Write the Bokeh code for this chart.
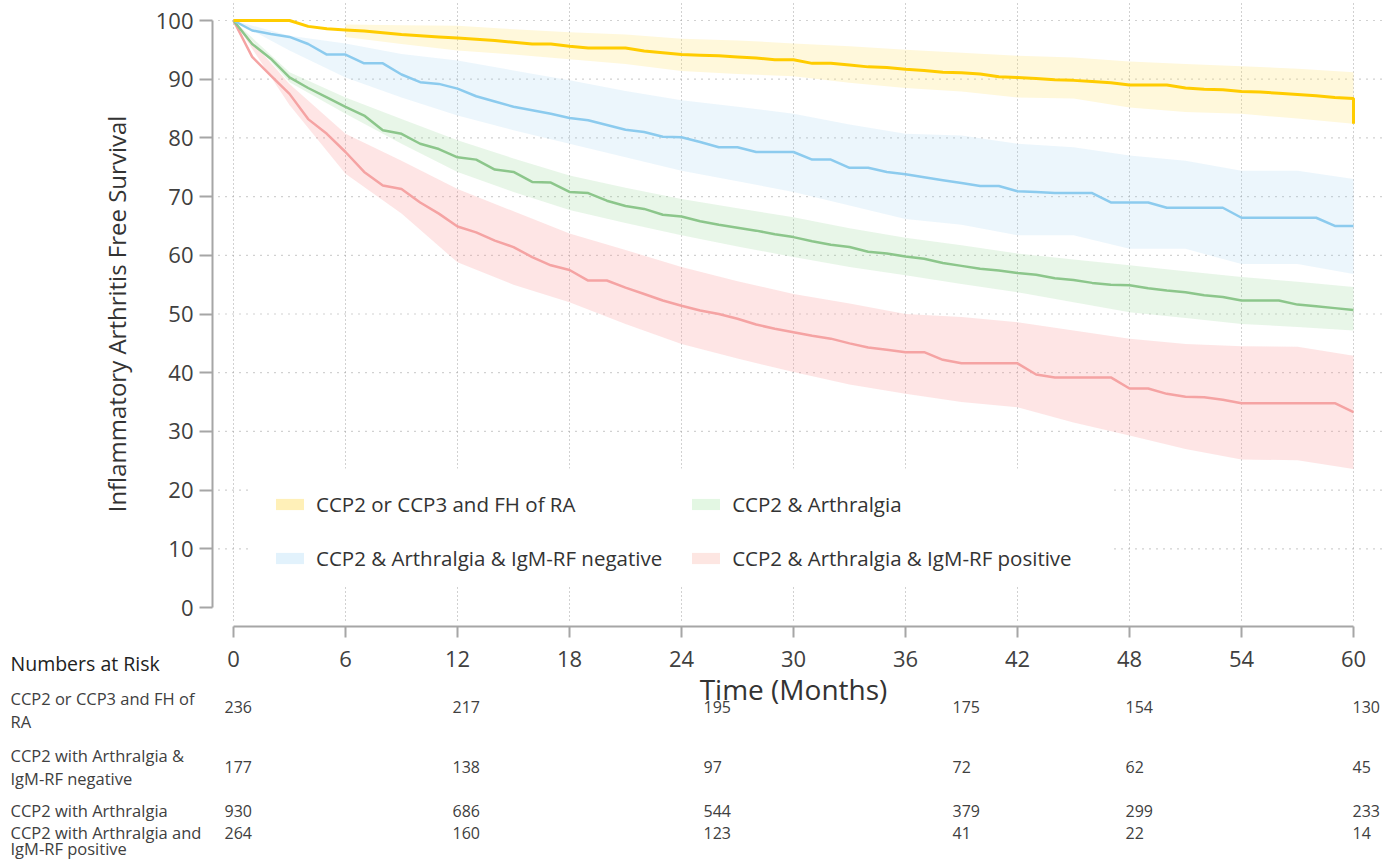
from bokeh.plotting import figure
from bokeh.models import Range1d, FixedTicker, Legend, LegendItem, Label, BoxAnnotation
from bokeh.embed import file_html
from bokeh.resources import INLINE

# ---------------- data ----------------
months = list(range(0, 61))
band_months = [0, 3, 6, 9, 12, 15, 18, 21, 24, 27, 30, 33, 36, 39, 42, 45, 48, 51, 54, 57, 60]
yellow_band_months = [6, 9, 12, 15, 18, 21, 24, 27, 30, 33, 36, 39, 42, 45, 48, 51, 54, 57, 60]

yellow_surv = [100, 100, 100, 100, 99.0, 98.6, 98.4, 98.2, 97.9, 97.6, 97.4, 97.2, 97.0, 96.8, 96.6, 96.3,
               96.0, 96.0, 95.6, 95.3, 95.3, 95.3, 94.8, 94.5, 94.2, 94.1, 94.0, 93.8, 93.6, 93.3, 93.3,
               92.7, 92.7, 92.4, 92.1, 92.0, 91.7, 91.5, 91.2, 91.1, 90.9, 90.4, 90.3, 90.1, 89.9, 89.8,
               89.6, 89.4, 89.0, 89.0, 89.0, 88.5, 88.3, 88.2, 87.9, 87.8, 87.6, 87.4, 87.2, 86.9, 86.7]
yellow_final_drop = 82.4
yellow_upper = [99.3, 99.2, 99.1, 98.5, 98.0, 97.6, 96.9, 96.6, 96.1, 95.6, 95.0, 94.5, 94.0, 93.7, 93.0,
                92.6, 92.2, 91.8, 91.2]
yellow_lower = [97.2, 96.0, 94.9, 94.2, 93.4, 92.6, 91.4, 90.9, 90.5, 89.4, 88.5, 87.9, 86.9, 86.7, 85.2,
                84.4, 84.1, 83.3, 82.4]

blue_surv = [100, 98.3, 97.7, 97.2, 96.0, 94.2, 94.2, 92.7, 92.7, 90.8, 89.5, 89.2, 88.4, 87.1, 86.2, 85.3,
             84.7, 84.1, 83.4, 83.0, 82.2, 81.4, 81.0, 80.2, 80.1, 79.3, 78.4, 78.4, 77.6, 77.6, 77.6,
             76.3, 76.3, 74.9, 74.9, 74.2, 73.8, 73.3, 72.8, 72.3, 71.8, 71.8, 70.9, 70.8, 70.6, 70.6,
             70.6, 69.0, 69.0, 69.0, 68.1, 68.1, 68.1, 68.1, 66.4, 66.4, 66.4, 66.4, 66.4, 65.0, 65.0]
blue_upper = [100, 97.4, 96.1, 94.3, 93.2, 91.5, 89.8, 88.0, 86.4, 85.3, 84.1, 82.3, 80.7, 80.4, 79.0,
              78.4, 77.0, 76.1, 74.4, 74.4, 73.0]
blue_lower = [100, 94.9, 90.3, 86.9, 83.8, 81.3, 79.0, 76.7, 74.4, 72.6, 70.8, 68.5, 66.2, 65.2, 63.4,
              63.4, 61.1, 61.1, 58.5, 58.5, 56.8]

green_surv = [100, 96.0, 93.5, 90.3, 88.5, 86.9, 85.3, 83.8, 81.3, 80.7, 79.0, 78.1, 76.7, 76.3, 74.6, 74.2,
              72.5, 72.4, 70.8, 70.6, 69.3, 68.4, 67.9, 66.9, 66.6, 65.8, 65.2, 64.7, 64.2, 63.6, 63.1,
              62.4, 61.8, 61.4, 60.6, 60.3, 59.8, 59.4, 58.7, 58.2, 57.7, 57.4, 57.0, 56.7, 56.1, 55.8,
              55.3, 55.0, 54.9, 54.4, 54.0, 53.7, 53.2, 52.9, 52.3, 52.3, 52.3, 51.6, 51.3, 51.0, 50.7]
green_upper = [100, 91.2, 86.9, 83.2, 79.6, 76.5, 73.6, 71.5, 69.6, 68.0, 66.5, 64.6, 63.0, 61.7, 60.3,
               59.3, 58.3, 57.3, 56.3, 55.5, 54.6]
green_lower = [100, 89.5, 84.1, 79.0, 74.2, 70.8, 67.7, 65.5, 63.4, 61.5, 59.7, 58.0, 56.6, 55.1, 53.7,
               52.0, 50.3, 49.3, 48.3, 47.8, 47.2]

red_surv = [100, 93.8, 90.6, 87.5, 83.2, 80.7, 77.6, 74.2, 71.9, 71.3, 69.0, 67.1, 64.9, 63.9, 62.5, 61.4,
            59.7, 58.3, 57.5, 55.7, 55.7, 54.5, 53.4, 52.3, 51.4, 50.6, 50.0, 49.2, 48.2, 47.5, 46.9,
            46.3, 45.8, 45.0, 44.3, 43.9, 43.5, 43.5, 42.2, 41.6, 41.6, 41.6, 41.6, 39.7, 39.2, 39.2,
            39.2, 39.2, 37.3, 37.3, 36.4, 35.9, 35.8, 35.4, 34.8, 34.8, 34.8, 34.8, 34.8, 34.8, 33.3]
red_upper = [100, 89.2, 80.7, 76.1, 71.3, 67.5, 63.7, 60.9, 58.0, 55.6, 53.4, 51.8, 50.0, 49.5, 48.6,
             47.2, 45.8, 44.9, 44.5, 44.4, 42.9]
red_lower = [100, 85.6, 73.9, 67.1, 58.8, 55.0, 52.0, 48.3, 44.9, 42.4, 40.1, 38.0, 36.4, 35.0, 34.1,
             31.5, 29.3, 27.0, 25.2, 25.1, 23.6]

legend_labels = ["CCP2 or CCP3 and FH of RA", "CCP2 & Arthralgia & IgM-RF negative",
                 "CCP2 & Arthralgia", "CCP2 & Arthralgia & IgM-RF positive"]

x_ticks = [0, 6, 12, 18, 24, 30, 36, 42, 48, 54, 60]
y_ticks = [0, 10, 20, 30, 40, 50, 60, 70, 80, 90, 100]
grid_y_ticks = [10, 20, 30, 40, 50, 60, 70, 80, 90, 100]

risk_months = [0, 12, 24, 36, 48, 60]
risk_yellow = [236, 217, 195, 175, 154, 130]
risk_blue = [177, 138, 97, 72, 62, 45]
risk_green = [930, 686, 544, 379, 299, 233]
risk_red = [264, 160, 123, 41, 22, 14]
risk_row_labels = [["CCP2 or CCP3 and FH of", "RA"],
                   ["CCP2 with Arthralgia &", "IgM-RF negative"],
                   ["CCP2 with Arthralgia"],
                   ["CCP2 with Arthralgia and", "IgM-RF positive"]]

# ---------------- layout (frame = whole canvas, axes at fixed locations) ----------------
W, H = 1385, 860
PX_X0, PX_PER_MONTH = 233.0, 1120.0 / 60.0     # pixel of month 0, pixels per month
PX_Y0, PX_PER_UNIT = 607.0, 587.0 / 100.0      # pixel of survival 0, pixels per unit


def dx(px):
    return (px - PX_X0) / PX_PER_MONTH


def dy(py):
    return (PX_Y0 - py) / PX_PER_UNIT


FONT = "Open Sans"
TXT = "#404040"
GRID = "#a3a3a3"

p = figure(width=W, height=H, x_range=Range1d(dx(0), dx(W)), y_range=Range1d(dy(H), dy(0)),
           min_border_left=0, min_border_right=0, min_border_top=0, min_border_bottom=0,
           output_backend="svg", toolbar_location=None)
p.outline_line_color = None
p.background_fill_color = "white"
p.border_fill_color = "white"
p.grid.visible = False

# axes placed at fixed data locations (so table texts below stay inside the frame)
for ax in p.yaxis:
    ax.fixed_location = dx(212)
    ax.bounds = (0, 100)
    ax.ticker = FixedTicker(ticks=y_ticks)
    ax.axis_label = "Inflammatory Arthritis Free Survival"
    ax.axis_label_standoff = 20
    ax.major_tick_out = 13
    ax.major_label_standoff = 6
    ax.axis_label_text_font_size = "24px"
for ax in p.xaxis:
    ax.fixed_location = dy(626)
    ax.bounds = (0, 60)
    ax.ticker = FixedTicker(ticks=x_ticks)
    ax.axis_label = "Time (Months)"
    ax.axis_label_standoff = 0
    ax.major_tick_out = 11
    ax.major_label_standoff = 13
    ax.axis_label_text_font_size = "28px"
for ax in p.axis:
    ax.axis_line_color = "#a6a6a6"
    ax.axis_line_width = 2
    ax.major_tick_line_color = "#a6a6a6"
    ax.major_tick_line_width = 2
    ax.major_tick_in = 0
    ax.minor_tick_line_color = None
    ax.major_label_text_font = FONT
    ax.major_label_text_font_size = "22px"
    ax.major_label_text_color = TXT
    ax.axis_label_text_font = FONT
    ax.axis_label_text_font_style = "normal"
    ax.axis_label_text_color = "#333333"

# dotted grid lines at the tick values
p.segment(x0=x_ticks, x1=x_ticks, y0=[dy(620)] * len(x_ticks), y1=[dy(0)] * len(x_ticks),
          line_color=GRID, line_width=1, line_dash="1 3")
p.segment(x0=[dx(218)] * len(grid_y_ticks), x1=[dx(W)] * len(grid_y_ticks), y0=grid_y_ticks, y1=grid_y_ticks,
          line_color=GRID, line_width=1.2, line_dash="1 6")

# confidence bands
p.varea(x=yellow_band_months, y1=yellow_lower, y2=yellow_upper, fill_color="#ffe46e", fill_alpha=0.25)
p.varea(x=band_months, y1=blue_lower, y2=blue_upper, fill_color="#96cdf0", fill_alpha=0.18)
p.varea(x=band_months, y1=green_lower, y2=green_upper, fill_color="#8cd28c", fill_alpha=0.2)
p.varea(x=band_months, y1=red_lower, y2=red_upper, fill_color="#fa9696", fill_alpha=0.25)

# survival curves
p.line(x=months, y=red_surv, line_color="#f5a3a3", line_width=2.5)
p.line(x=months, y=green_surv, line_color="#8cc68b", line_width=2.5)
p.line(x=months, y=blue_surv, line_color="#8ccbee", line_width=2.5)
p.line(x=months + [months[-1]], y=yellow_surv + [yellow_final_drop], line_color="#ffcc00", line_width=3)

# white legend panel behind the legend (hides the grid like in the original)
p.add_layout(BoxAnnotation(left=dx(250), right=dx(1110), top=dy(468), bottom=dy(585),
                           fill_color="white", fill_alpha=1.0, line_color=None))

# legend swatches (renderers that draw nothing in the plot)
nan = float("nan")
sw_colors = ["#fff0b8", "#e2f2fc", "#e3f7e3", "#fde6e2"]
sw_r = [p.varea(x=[0], y1=[nan], y2=[nan], fill_color=c, fill_alpha=1.0) for c in sw_colors]
legend = Legend(items=[LegendItem(label=lab, renderers=[r]) for lab, r in zip(legend_labels, sw_r)],
                ncols=2, location=(272, H - 572), margin=0, padding=22, spacing=26,
                glyph_width=35, glyph_height=14, label_standoff=9, label_height=24,
                label_text_font=FONT, label_text_font_size="20.5px", label_text_color="#333333",
                background_fill_color="white", background_fill_alpha=1.0, border_line_color=None)
p.add_layout(legend)

# numbers at risk table
p.add_layout(Label(x=dx(10), y=dy(663), text="Numbers at Risk", text_font=FONT,
                   text_font_size="19.5px", text_color="#222222", text_baseline="middle"))
row_label_ys = [[698, 721], [755, 778], [810], [832, 848]]
row_num_ys = [706, 766, 810, 832]
col_offsets = [-9, -5, 22, 47, -4, -1]
for lines, ys in zip(risk_row_labels, row_label_ys):
    for t, yy in zip(lines, ys):
        p.add_layout(Label(x=dx(10), y=dy(yy), text=t, text_font=FONT, text_font_size="16.5px",
                           text_color=TXT, text_baseline="middle"))
for vals, yy in zip([risk_yellow, risk_blue, risk_green, risk_red], row_num_ys):
    for m, v, off in zip(risk_months, vals, col_offsets):
        p.add_layout(Label(x=m, y=dy(yy), x_offset=off, text=str(v), text_font=FONT,
                           text_font_size="16px", text_color=TXT, text_baseline="middle"))

open("out.html", "w").write(file_html(p, INLINE))
